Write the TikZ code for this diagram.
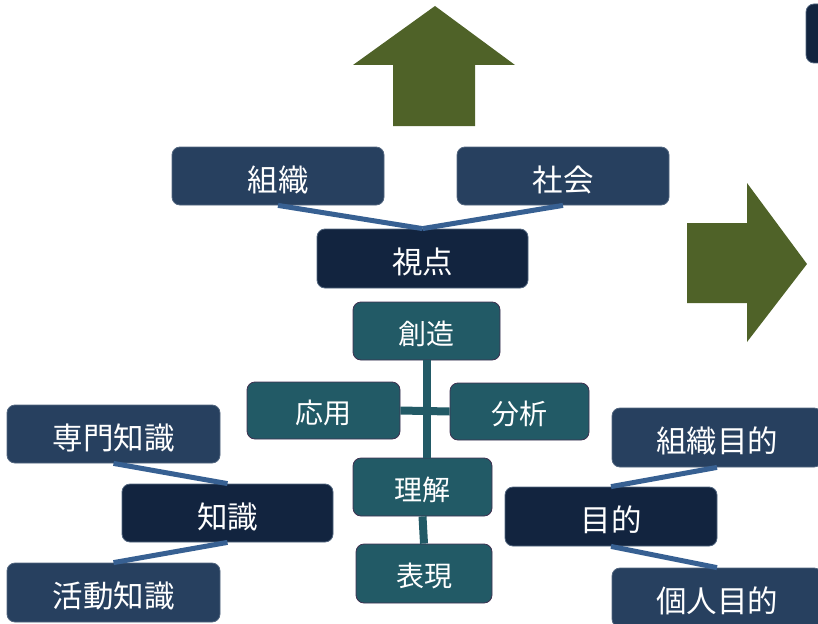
\documentclass[tikz,border=0pt]{standalone}
\usepackage{fontspec}
\setmainfont{Noto Sans CJK JP}
\definecolor{navyA}{HTML}{27405F}
\definecolor{navyB}{HTML}{12243F}
\definecolor{tealA}{HTML}{225A66}
\definecolor{tealBorder}{HTML}{3F3151}
\definecolor{linkBlue}{HTML}{376092}
\definecolor{olive}{HTML}{4F6228}
\begin{document}
\begin{tikzpicture}[x=1pt,y=-1pt,
  box/.style={rounded corners=8pt, line width=0.8pt, inner sep=0pt, text=white},
  outerbox/.style={box, fill=navyA, draw=navyA!80!white, font=\fontsize{30.5}{33}\selectfont, text height=34pt, text depth=4pt},
  darkbox/.style={box, fill=navyB, draw=navyA!80!white, font=\fontsize{30.5}{33}\selectfont, text height=34pt, text depth=4pt},
  tealbox/.style={box, fill=tealA, draw=tealBorder, font=\fontsize{28}{31}\selectfont, text height=30pt, text depth=4pt},
  link/.style={draw=linkBlue, line width=5pt},
  tlink/.style={draw=tealA, line width=8pt},
  bigarrow/.style={fill=olive}]
\useasboundingbox (0,0) rectangle (818,623);
% arrows
\fill[bigarrow] (435,6) -- (515,65) -- (475,65) -- (475,126) -- (393,126) -- (393,65) -- (353,65) -- cycle;
\fill[bigarrow] (687,223) -- (747,223) -- (747,183) -- (807,264) -- (747,342) -- (747,303) -- (687,303) -- cycle;
% top-right partial box
\node[darkbox, minimum width=64pt, minimum height=59pt] (corner) at (838,33.5) {};
% top group
\node[outerbox, minimum width=212pt, minimum height=58pt] (org) at (278,176) {組織};
\node[outerbox, minimum width=212pt, minimum height=58pt] (soc) at (563,176) {社会};
\node[darkbox, minimum width=211pt, minimum height=59pt] (view) at (422.5,258.5) {視点};
% teal group
\node[tealbox, minimum width=147pt, minimum height=58pt] (create) at (426.5,331) {創造};
\node[tealbox, minimum width=153pt, minimum height=57pt] (apply) at (323.5,410.5) {応用};
\node[tealbox, minimum width=139pt, minimum height=57pt] (analyze) at (519.5,411.5) {分析};
\node[tealbox, minimum width=139pt, minimum height=58pt] (understand) at (422.5,487) {理解};
\node[tealbox, minimum width=136pt, minimum height=59pt] (express) at (424,573.5) {表現};
% left group
\node[outerbox, minimum width=213pt, minimum height=58pt] (spec) at (113.5,434) {専門知識};
\node[darkbox, minimum width=211pt, minimum height=58pt] (know) at (227.5,513) {知識};
\node[outerbox, minimum width=213pt, minimum height=59pt] (act) at (113.5,592.5) {活動知識};
% right group
\node[outerbox, minimum width=210pt, minimum height=59pt] (orgp) at (717,437.5) {組織目的};
\node[darkbox, minimum width=212pt, minimum height=59pt] (purp) at (611,516.5) {目的};
\node[outerbox, minimum width=210pt, minimum height=59pt] (perp) at (717,597.5) {個人目的};
% connectors
\draw[link] (org.south) -- (view.north);
\draw[link] (soc.south) -- (view.north);
\draw[link] (spec.south) -- (know.north);
\draw[link] (know.south) -- (act.north);
\draw[link] (orgp.south) -- (purp.north);
\draw[link] (purp.south) -- (perp.north);
\draw[tlink] (create.south) -- (create.south |- understand.north);
\draw[tlink] (apply.east) -- (analyze.west);
\draw[tlink] (understand.south) -- (express.north);
\end{tikzpicture}
\end{document}
